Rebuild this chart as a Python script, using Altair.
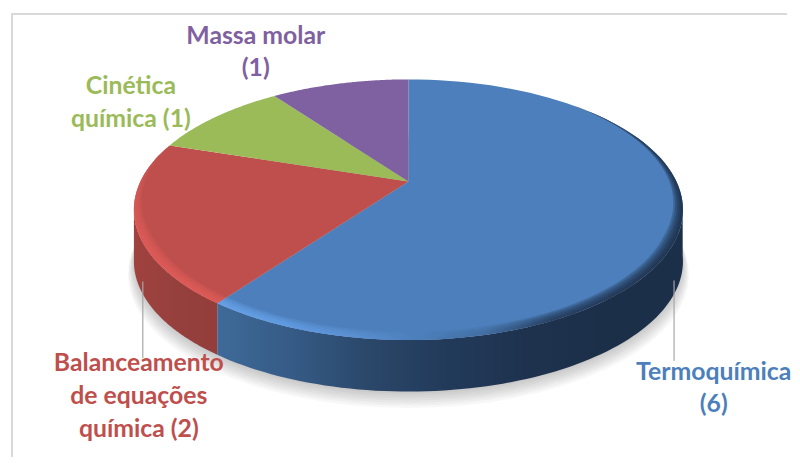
import math
import altair as alt
import pandas as pd

categories = ["Termoquímica", "Balanceamento de equações química", "Cinética química", "Massa molar"]
values = [6, 2, 1, 1]
colors = ["#4c7fbb", "#be4f4c", "#9bba58", "#7f60a0"]
label_rows = [
    ("Termoquímica", 718, 380, 0), ("(6)", 718, 413, 0),
    ("Balanceamento", 138, 371, 1), ("de equações", 138, 405, 1), ("química (2)", 138, 438, 1),
    ("Cinética", 130, 92, 2), ("química (1)", 130, 125, 2),
    ("Massa molar", 256, 41, 3), ("(1)", 256, 74, 3),
]
leaders = [(142, 281, 358), (678, 280, 361)]

# tilted-disc projection of the pie (picture units)
CX, APEX, B, C, R, DEPTH = 410, 180, -86.3, 0.2167, 270.4, 52
W, H = 784, 450


def rim(theta_deg, r=1.0, dy=0.0):
    t = math.radians(theta_deg)
    u, v = r * math.sin(t), r * math.cos(t)
    d = 1 + C * v
    return CX + R * u / d, (APEX + B * v) / d + dy


def arc(a, b, r=1.0, dy=0.0, n=80):
    return [rim(a + (b - a) * i / n, r, dy) for i in range(n + 1)]


def band(a, b, r1=1.0, r2=1.0, dy1=0.0, dy2=0.0):
    return arc(a, b, r1, dy1) + arc(b, a, r2, dy2)


def tapered(a, b, r, fade):
    """Rim strip of a to b whose inner edge grows out of the rim over the first `fade` degrees."""
    n = 80
    inner = []
    for i in range(n, -1, -1):
        th = a + (b - a) * i / n
        f = min(1.0, abs(th - a) / fade)
        inner.append(rim(th, 1 - (1 - r) * f))
    return arc(a, b) + inner


def grad(stops, vertical=False):
    n = len(stops) - 1
    return {"gradient": "linear", "x1": 0, "x2": 0 if vertical else 1, "y1": 0, "y2": 1 if vertical else 0,
            "stops": [{"offset": i / n, "color": c} for i, c in enumerate(stops)]}


def poly(points, fill, opacity=1.0):
    df = pd.DataFrame(points, columns=["x", "y"])
    df["i"] = range(len(df))
    return alt.Chart(df).mark_line(fill=fill, stroke=None, opacity=opacity).encode(
        x=alt.X("x:Q", scale=XS, axis=None),
        y=alt.Y("y:Q", scale=YS, axis=None),
        order="i:Q",
    )


XS = alt.Scale(domain=[8, 8 + W], nice=False, zero=False)
YS = alt.Scale(domain=[8 + H, 8], nice=False, zero=False)

layers = []

# chart frame
frame = pd.DataFrame({"x": [10, 10, 8 + W], "y": [8 + H, 11, 11], "i": [0, 1, 2]})
layers.append(alt.Chart(frame).mark_line(color="#d9d9d9", strokeWidth=2).encode(
    x=alt.X("x:Q", scale=XS, axis=None), y=alt.Y("y:Q", scale=YS, axis=None), order="i:Q"))

# soft shadow
for k in range(7):
    layers.append(poly(arc(0, 360, 1.0 + 0.0035 * k, DEPTH + 2 + 1.7 * k), "#000000", 0.03))

# angles of the slices
edges = [0]
for v in values:
    edges.append(edges[-1] + 360 * v / sum(values))

# side walls
layers.append(poly(band(edges[1], 258, 1, 1, 0, DEPTH), grad(["#a0423f", "#96403d", "#933e3b"])))
layers.append(poly(band(100, edges[1], 1, 1, 0, DEPTH),
                   grad(["#3f6a99", "#355a85", "#2a4668", "#223a5a", "#1e324e", "#1c2f49", "#1c2f49"])))

# top slices
for i, col in enumerate(colors):
    pts = [(CX, APEX)] + arc(edges[i], edges[i + 1])
    layers.append(poly(pts, col))

# bevel on the rim
for r in [0.958, 0.966, 0.974, 0.982, 0.99]:
    layers.append(poly(tapered(45, edges[1], r, 70),
                       grad(["#6ca6ee", "#64a0ea", "#5e94d8", "#4c7fbb", "#3f6a9c", "#1f3350", "#1a2b44", "#16263c"]), 0.28))
    layers.append(poly(tapered(288, edges[1], r, 45),
                       grad(["#be4f4c", "#d85a57", "#e25c59", "#e25c59"], vertical=True), 0.28))

# leader lines
for x, y1, y2 in leaders:
    d = pd.DataFrame({"x": [x, x], "y": [y1, y2], "i": [0, 1]})
    layers.append(alt.Chart(d).mark_line(color="#a6a6a6", strokeWidth=1.2).encode(
        x=alt.X("x:Q", scale=XS, axis=None), y=alt.Y("y:Q", scale=YS, axis=None), order="i:Q"))

# labels
for txt, x, y, c in label_rows:
    d = pd.DataFrame({"x": [x], "y": [y], "t": [txt]})
    layers.append(alt.Chart(d).mark_text(font="Lato", fontWeight="bold", fontSize=25, baseline="alphabetic",
                                         align="center", color=colors[c]).encode(
        x=alt.X("x:Q", scale=XS, axis=None), y=alt.Y("y:Q", scale=YS, axis=None), text="t:N"))

chart = alt.layer(*layers).properties(width=W, height=H, padding=0, background="white").configure_view(stroke=None)
chart.save("out.html", embed_options={"renderer": "svg", "actions": False})
